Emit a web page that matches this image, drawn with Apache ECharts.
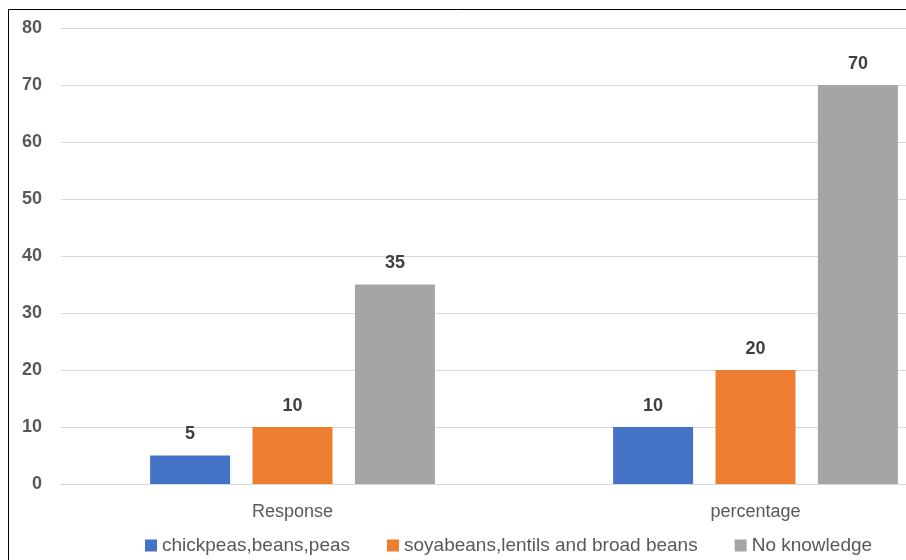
<!DOCTYPE html>
<html>
<head>
<meta charset="utf-8">
<script src="https://cdn.jsdelivr.net/npm/echarts@6/dist/echarts.min.js"></script>
<style>
  html, body { margin: 0; padding: 0; background: #fff; }
  #chart { width: 906px; height: 560px; }
</style>
</head>
<body>
<div id="chart"></div>
<script>
const categories = ['Response', 'percentage'];
const seriesNames = ['chickpeas,beans,peas', 'soyabeans,lentils and broad beans', 'No knowledge'];
const chickpeas = [5, 10];
const soyabeans = [10, 20];
const noKnowledge = [35, 70];
const yTicks = { min: 0, max: 80, interval: 10 };
const colors = ['#4472C4', '#ED7D31', '#A5A5A5'];

const font = '"Liberation Sans", Arial, sans-serif';
const values = [chickpeas, soyabeans, noKnowledge];

const chart = echarts.init(document.getElementById('chart'));
chart.setOption({
  animation: false,
  textStyle: { fontFamily: font },
  graphic: [{
    type: 'rect',
    shape: { x: 8.5, y: 9.5, width: 1000, height: 600 },
    style: { fill: 'none', stroke: '#000', lineWidth: 1 },
    silent: true
  }],
  grid: { left: 61, top: 28, width: 926, height: 456, outerBoundsMode: 'none' },
  legend: {
    bottom: 0,
    left: 140,
    itemWidth: 12,
    itemHeight: 12,
    itemGap: 37,
    icon: 'rect',
    textStyle: { fontSize: 19, color: '#595959', fontFamily: font },
    data: seriesNames
  },
  xAxis: {
    type: 'category',
    data: categories,
    axisLine: { lineStyle: { color: '#D9D9D9', width: 1 } },
    axisTick: { show: false },
    axisLabel: { fontSize: 18, color: '#595959', margin: 19 }
  },
  yAxis: {
    type: 'value',
    min: yTicks.min, max: yTicks.max, interval: yTicks.interval,
    axisLine: { show: false },
    axisTick: { show: false },
    splitLine: { lineStyle: { color: '#D9D9D9', width: 1 } },
    axisLabel: { fontSize: 18, color: '#595959', fontWeight: 'bold', margin: 19, align: 'right' }
  },
  series: seriesNames.map((name, i) => ({
    name,
    type: 'bar',
    data: values[i],
    barWidth: 80,
    barGap: '28%',
    itemStyle: { color: colors[i] },
    label: {
      show: true,
      position: 'top',
      distance: 12,
      fontSize: 18,
      fontWeight: 'bold',
      color: '#404040'
    }
  }))
});
</script>
</body>
</html>
